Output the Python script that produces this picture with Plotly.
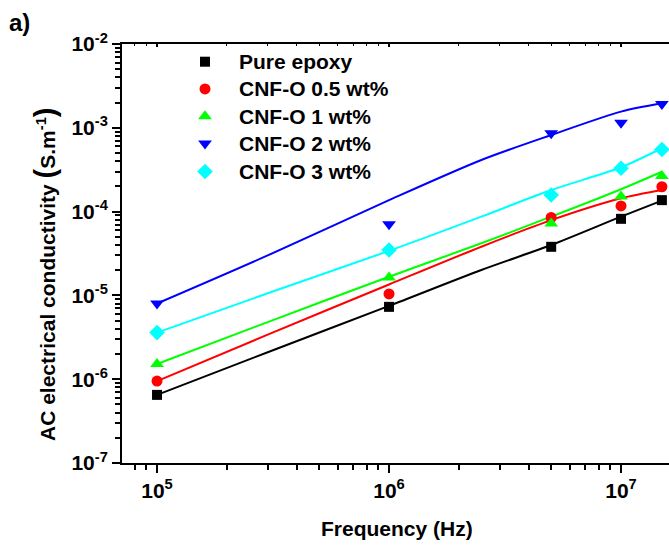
import plotly.graph_objects as go

# ---------------- data ----------------
freq = [1e5, 1e6, 5e6, 1e7, 1.5e7]
pure_epoxy = [6.5e-7, 7.3e-6, 3.8e-5, 8.2e-5, 1.37e-4]
cnf_05 = [9.5e-7, 1.04e-5, 8.5e-5, 1.17e-4, 1.98e-4]
cnf_1 = [1.52e-6, 1.63e-5, 7.2e-5, 1.51e-4, 2.66e-4]
cnf_2 = [8.0e-6, 7.05e-5, 8.6e-4, 1.15e-3, 1.92e-3]
cnf_3 = [3.6e-6, 3.48e-5, 1.58e-4, 3.29e-4, 5.5e-4]

# fitted curves
fit_freq = [1e5, 3e5, 1e6, 2.5e6, 5e6, 1e7, 1.5e7]
fit_pure = [6.5e-7, 2.1e-6, 7.5e-6, 2.01e-5, 3.99e-5, 8.7e-5, 1.35e-4]
fit_05 = [9.5e-7, 3.4e-6, 1.35e-5, 3.81e-5, 7.9e-5, 1.44e-4, 1.81e-4]
fit_1 = [1.52e-6, 4.8e-6, 1.67e-5, 4.19e-5, 8.7e-5, 1.85e-4, 2.99e-4]
fit_2 = [8.0e-6, 3.0e-5, 1.37e-4, 4.13e-4, 8.2e-4, 1.56e-3, 1.96e-3]
fit_3 = [3.6e-6, 1.06e-5, 3.4e-5, 8.7e-5, 1.81e-4, 3.38e-4, 5.7e-4]

names = ["Pure epoxy", "CNF-O 0.5 wt%", "CNF-O 1 wt%", "CNF-O 2 wt%", "CNF-O 3 wt%"]
colors = ["#000000", "#FF0000", "#00FF00", "#0000FF", "#00FFFF"]
symbols = ["square", "circle", "triangle-up", "triangle-down", "diamond"]
sizes = [10, 11, 12, 12, 12]

x_ticks = [1e5, 1e6, 1e7]
x_ticktext = ["<b>10<sup>5</sup></b>", "<b>10<sup>6</sup></b>", "<b>10<sup>7</sup></b>"]
y_ticks = [1e-7, 1e-6, 1e-5, 1e-4, 1e-3, 1e-2]
y_ticktext = ["<b>10<sup>-7</sup></b>", "<b>10<sup>-6</sup></b>", "<b>10<sup>-5</sup></b>",
              "<b>10<sup>-4</sup></b>", "<b>10<sup>-3</sup></b>", "<b>10<sup>-2</sup></b>"]

FONT = "Liberation Sans, Arial, sans-serif"

# plot-area geometry in pixels
L, T, B, W, H = 122, 44, 85, 669, 548
PW = W - L
PH = H - T - B


def px(xp):
    return (xp - L) / PW


def py(yp):
    return (H - B - yp) / PH


fig = go.Figure()
fits = [fit_pure, fit_05, fit_1, fit_2, fit_3]
vals = [pure_epoxy, cnf_05, cnf_1, cnf_2, cnf_3]
for f, c in zip(fits, colors):
    fig.add_trace(go.Scatter(x=fit_freq, y=f, mode="lines",
                             line=dict(color=c, width=2, shape="spline", smoothing=0.8),
                             showlegend=False, hoverinfo="skip"))
for v, n, c, s, sz in zip(vals, names, colors, symbols, sizes):
    fig.add_trace(go.Scatter(x=freq, y=v, mode="markers", name=n, showlegend=False,
                             marker=dict(color=c, symbol=s, size=sz, line=dict(width=0))))

# dummy trace for top axis
fig.add_trace(go.Scatter(x=[None], y=[None], xaxis="x2", yaxis="y",
                         showlegend=False, hoverinfo="skip"))

# manual legend (symbols on a hidden overlay axis, names as annotations)
leg_rows = [61.7, 88.9, 116.2, 143.6, 171.5]
for n, c, s, sz, r in zip(names, colors, symbols, sizes, leg_rows):
    fig.add_trace(go.Scatter(x=[px(205)], y=[py(r)], xaxis="x3", yaxis="y3",
                             mode="markers", showlegend=False, hoverinfo="skip",
                             cliponaxis=False,
                             marker=dict(color=c, symbol=s, size=sz, line=dict(width=0))))
    fig.add_annotation(text="<b>" + n + "</b>", xref="paper", yref="paper",
                       x=px(237), y=py(r), xanchor="left", yanchor="middle",
                       showarrow=False, font=dict(family=FONT, size=21, color="black"))

minor_x = [m * 10 ** k for k in range(4, 8) for m in range(2, 10)]
minor_y = [m * 10.0 ** k for k in range(-8, -2) for m in range(2, 10)]

xrange = [4.849, 4.849 + PW / 232]

fig.update_layout(
    width=W, height=H,
    margin=dict(l=L, r=0, t=T, b=B, autoexpand=False),
    paper_bgcolor="white", plot_bgcolor="white",
    font=dict(family=FONT, color="black", size=19),
    showlegend=False,
    xaxis=dict(type="log", range=xrange, showgrid=False, zeroline=False,
               showline=True, linecolor="black", linewidth=2,
               ticks="outside", ticklen=8, tickwidth=2, tickcolor="black",
               tickmode="array", tickvals=x_ticks, ticktext=x_ticktext,
               tickfont=dict(family=FONT, size=21, color="black"),
               minor=dict(tickmode="array", tickvals=minor_x, ticks="outside",
                          ticklen=5, tickwidth=1.5, tickcolor="black", showgrid=False)),
    xaxis2=dict(type="log", range=xrange, overlaying="x", side="top", anchor="y",
                showgrid=False, zeroline=False, showline=True, linecolor="black",
                linewidth=2, ticks="inside", ticklen=3, tickwidth=1.5, tickcolor="black",
                tickmode="array", tickvals=x_ticks, showticklabels=False,
                minor=dict(tickmode="array", tickvals=minor_x, ticks="inside",
                           ticklen=2, tickwidth=1, tickcolor="black", showgrid=False)),
    xaxis3=dict(range=[0, 1], overlaying="x", visible=False, anchor="y3"),
    yaxis3=dict(range=[0, 1], overlaying="y", visible=False, anchor="x3"),
    yaxis=dict(type="log", range=[-7, -2], showgrid=False, zeroline=False,
               showline=True, linecolor="black", linewidth=2,
               ticks="outside", ticklen=8, tickwidth=2, tickcolor="black",
               tickmode="array", tickvals=y_ticks, ticktext=y_ticktext,
               tickfont=dict(family=FONT, size=21, color="black"),
               minor=dict(tickmode="array", tickvals=minor_y, ticks="outside",
                          ticklen=5, tickwidth=1.5, tickcolor="black", showgrid=False)),
)

fig.add_annotation(text="<b>Frequency (Hz)</b>", xref="paper", yref="paper",
                   x=px(397), y=py(528), showarrow=False,
                   font=dict(family=FONT, size=21, color="black"),
                   xanchor="center", yanchor="middle")
fig.add_annotation(text="<b>AC electrical conductivity <span style='font-size:29px'>(</span>S.m<sup>-1</sup><span style='font-size:29px'>)</span></b>",
                   xref="paper", yref="paper",
                   x=px(45), y=py(274), showarrow=False,
                   textangle=-90, font=dict(family=FONT, size=21, color="black"),
                   xanchor="center", yanchor="middle")
fig.add_annotation(text="<b>a)</b>", xref="paper", yref="paper",
                   x=px(19), y=py(22), showarrow=False,
                   font=dict(family=FONT, size=24, color="black"),
                   xanchor="center", yanchor="middle")

fig.write_html("out.html", config={"displayModeBar": False},
               post_script="document.body.style.margin='0';document.body.style.padding='0';document.body.style.overflow='hidden';")
